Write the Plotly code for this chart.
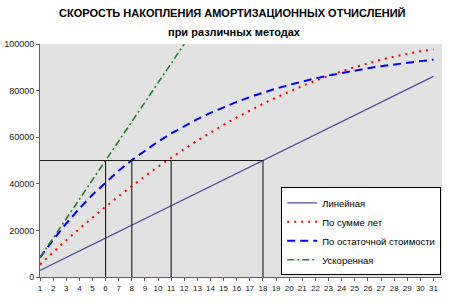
import plotly.graph_objects as go

years = list(range(1, 32))
linear = [2778, 5556, 8333, 11111, 13889, 16667, 19444, 22222, 25000, 27778,
          30556, 33333, 36111, 38889, 41667, 44444, 47222, 50000, 52778, 55556,
          58333, 61111, 63889, 66667, 69444, 72222, 75000, 77778, 80556, 83333, 86111]
sum_years = [5405, 10661, 15766, 20721, 25526, 30180, 34685, 39039, 43243, 47297,
             51201, 54955, 58559, 62012, 65315, 68468, 71471, 74324, 77027, 79580,
             81982, 84234, 86336, 88288, 90090, 91742, 93243, 94595, 95796, 96847, 97748]
declining = [8333, 15972, 22975, 29393, 35277, 40671, 45615, 50147, 54301, 58110,
             61600, 64800, 67734, 70423, 72887, 75147, 77218, 79116, 80857, 82452,
             83914, 85255, 86484, 87610, 88642, 89589, 90456, 91252, 91981, 92649, 93262]
accel_years = list(range(1, 13))
accelerated = [8333, 16667, 25000, 33333, 41667, 50000, 58333, 66667, 75000, 83333,
               91667, 100000]
threshold = 50000
cross_years = [6, 8, 11, 18]

names = ["Линейная", "По сумме лет", "По остаточной стоимости", "Ускоренная"]
title = "СКОРОСТЬ НАКОПЛЕНИЯ АМОРТИЗАЦИОННЫХ ОТЧИСЛЕНИЙ"
subtitle = "при различных методах"

fig = go.Figure()
fig.add_trace(go.Scatter(x=years, y=linear, name=names[0], mode="lines",
                         line=dict(color="#50509A", width=1.2)))
fig.add_trace(go.Scatter(x=years, y=sum_years, name=names[1], mode="lines",
                         line=dict(color="#FF0000", width=2, dash="2px,5px")))
fig.add_trace(go.Scatter(x=years, y=declining, name=names[2], mode="lines",
                         line=dict(color="#0000FF", width=2, dash="8px,5px")))
fig.add_trace(go.Scatter(x=accel_years, y=accelerated, name=names[3], mode="lines",
                         line=dict(color="#2E7D32", width=1.6, dash="7px,3px,2px,3px")))

shapes = [dict(type="line", xref="x", yref="y", x0=years[0], x1=max(cross_years),
               y0=threshold, y1=threshold, line=dict(color="#1A1A1A", width=1.1))]
for cy in cross_years:
    shapes.append(dict(type="line", xref="x", yref="y", x0=cy, x1=cy, y0=0,
                       y1=threshold, line=dict(color="#1A1A1A", width=1.1)))

fig.update_layout(
    width=452, height=302,
    margin=dict(l=40, r=10, t=44, b=25, autoexpand=False),
    paper_bgcolor="white", plot_bgcolor="#E2E2E2",
    font=dict(family="Liberation Sans, Arial, sans-serif", color="#000000"),
    shapes=shapes,
    showlegend=True,
    legend=dict(x=0.6, y=0.385, xanchor="left", yanchor="top",
                bgcolor="white", bordercolor="#000000", borderwidth=1,
                font=dict(size=9.5, color="#000"), tracegroupgap=0,
                itemwidth=30),
    annotations=[
        dict(text="<b>" + title + "</b>", xref="paper", yref="paper",
             x=0.48, y=1, yshift=31, showarrow=False, xanchor="center",
             yanchor="middle", font=dict(size=11, color="#000")),
        dict(text="<b>" + subtitle + "</b>", xref="paper", yref="paper",
             x=0.485, y=1, yshift=12, showarrow=False, xanchor="center",
             yanchor="middle", font=dict(size=11, color="#000")),
    ],
)
fig.update_xaxes(range=[1, 31.65], tickvals=years, ticktext=[str(v) for v in years],
                 showgrid=False, zeroline=False, showline=True, linecolor="#606060",
                 linewidth=1, ticks="outside", ticklen=3, tickcolor="#606060",
                 tickfont=dict(size=8, color="#202020"))
fig.update_yaxes(range=[0, 100000], dtick=20000, tickformat="d",
                 showgrid=False, zeroline=False, showline=True, linecolor="#606060",
                 linewidth=1, ticks="outside", ticklen=3, tickcolor="#606060",
                 tickfont=dict(size=9, color="#202020"))

fig.write_html("out.html")
